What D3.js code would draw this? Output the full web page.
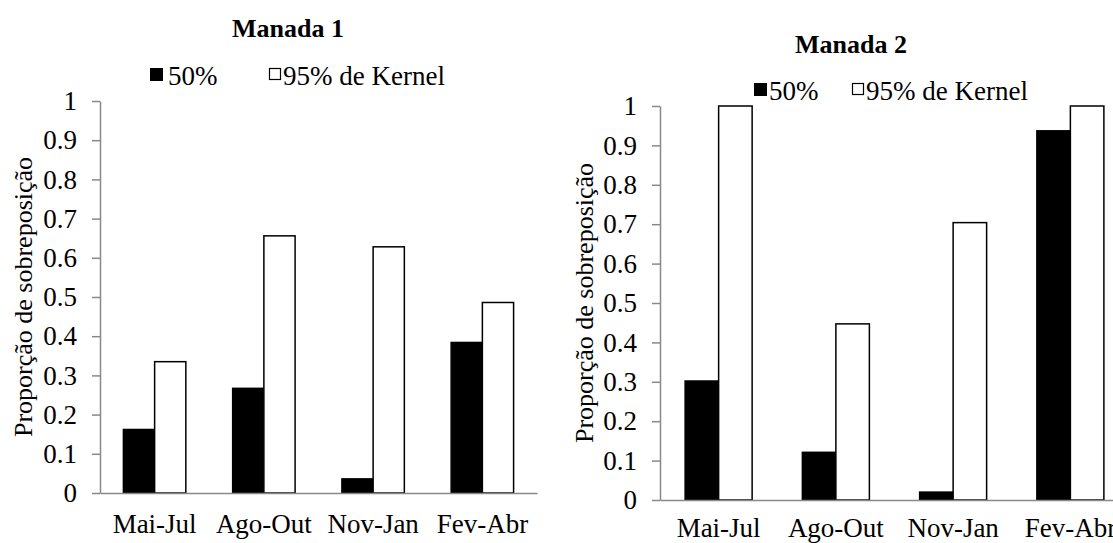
<!DOCTYPE html>
<html lang="pt">
<head>
    <meta charset="UTF-8">
    <script src="https://d3js.org/d3.v7.min.js"></script>
    <style>
        body { margin: 0; background: #fff; }
        svg { display: block; }
        svg text { font-family: "Liberation Serif", "Times New Roman", serif; fill: #000; }
        .axis path, .axis line { stroke: #898989; stroke-width: 1.5px; }
        .axis text { font-family: "Liberation Serif", "Times New Roman", serif; font-size: 27px; fill: #000; }
    </style>
</head>
<body>
<svg id="chart" width="1113" height="543"></svg>
<script>
    // dados
    const categorias = ["Mai-Jul", "Ago-Out", "Nov-Jan", "Fev-Abr"];
    const series = ["50%", "95% de Kernel"];
    const manada1_50 = [0.162, 0.267, 0.036, 0.384];
    const manada1_95 = [0.335, 0.656, 0.628, 0.486];
    const manada2_50 = [0.302, 0.121, 0.020, 0.937];
    const manada2_95 = [1.0, 0.447, 0.704, 1.0];
    const yTicks = [0, 0.1, 0.2, 0.3, 0.4, 0.5, 0.6, 0.7, 0.8, 0.9, 1];

    const svg = d3.select("#chart");
    const fills = { "50%": "#000", "95% de Kernel": "#fff" };

    const paineis = [
        {
            titulo: "Manada 1", v50: manada1_50, v95: manada1_95,
            left: 100, right: 537, top: 101, bottom: 493,
            tituloX: 288, tituloY: 37, labelX: 23, catY: 40,
            legenda: { y: 85, sq1: 150, txt1: 168, sq2: 269, txt2: 283 }
        },
        {
            titulo: "Manada 2", v50: manada2_50, v95: manada2_95,
            left: 660, right: 1129, top: 106, bottom: 500,
            tituloX: 851, tituloY: 53, labelX: 584, catY: 37,
            legenda: { y: 100, sq1: 754, txt1: 769, sq2: 852, txt2: 866 }
        }
    ];

    paineis.forEach(p => {
        const dados = categorias.map((c, i) => ({
            cat: c,
            valores: [
                { serie: series[0], v: p.v50[i] },
                { serie: series[1], v: p.v95[i] }
            ]
        }));

        // gap de 150% entre grupos, como no Excel
        const x0 = d3.scaleBand()
            .domain(categorias)
            .range([p.left, p.right])
            .paddingInner(1.5 / 3.5)
            .paddingOuter(0.75 / 3.5);

        const x1 = d3.scaleBand()
            .domain(series)
            .range([0, x0.bandwidth()]);

        const y = d3.scaleLinear().domain([0, 1]).range([p.bottom, p.top]);

        // eixo y
        svg.append("g")
            .attr("class", "axis")
            .attr("transform", `translate(${p.left},0)`)
            .call(d3.axisLeft(y).tickValues(yTicks).tickSize(8).tickSizeOuter(0).tickPadding(15)
                .tickFormat(d => String(d)));

        // barras
        const grupos = svg.append("g").selectAll("g")
            .data(dados)
            .enter()
            .append("g")
            .attr("transform", d => `translate(${x0(d.cat)},0)`);

        grupos.selectAll("rect")
            .data(d => d.valores)
            .enter()
            .append("rect")
            .attr("x", d => x1(d.serie))
            .attr("y", d => y(d.v))
            .attr("width", x1.bandwidth())
            .attr("height", d => y(0) - y(d.v))
            .attr("fill", d => fills[d.serie])
            .attr("stroke", "#000")
            .attr("stroke-width", 1.5);

        // eixo x
        const ax = svg.append("g")
            .attr("class", "axis")
            .attr("transform", `translate(0,${p.bottom})`)
            .call(d3.axisBottom(x0).tickSize(0).tickSizeOuter(0));
        ax.selectAll("text").attr("y", p.catY).attr("dy", 0);

        // titulo
        svg.append("text")
            .attr("x", p.tituloX)
            .attr("y", p.tituloY)
            .attr("text-anchor", "middle")
            .style("font-size", "26px")
            .style("font-weight", "bold")
            .text(p.titulo);

        // titulo do eixo y
        svg.append("text")
            .attr("transform", `translate(${p.labelX},${(p.top + p.bottom) / 2}) rotate(-90)`)
            .attr("text-anchor", "middle")
            .attr("dy", "0.35em")
            .style("font-size", "26px")
            .text("Proporção de sobreposição");

        // legenda
        const lg = p.legenda;
        svg.append("rect")
            .attr("x", lg.sq1).attr("y", lg.y - 17)
            .attr("width", 13).attr("height", 13)
            .attr("fill", "#000");
        svg.append("text")
            .attr("x", lg.txt1).attr("y", lg.y)
            .style("font-size", "27px")
            .text(series[0]);
        svg.append("rect")
            .attr("x", lg.sq2 + 0.5).attr("y", lg.y - 16.5)
            .attr("width", 11).attr("height", 11)
            .attr("fill", "#fff")
            .attr("stroke", "#000")
            .attr("stroke-width", 1.2);
        svg.append("text")
            .attr("x", lg.txt2).attr("y", lg.y)
            .style("font-size", "27px")
            .text(series[1]);
    });
</script>
</body>
</html>
